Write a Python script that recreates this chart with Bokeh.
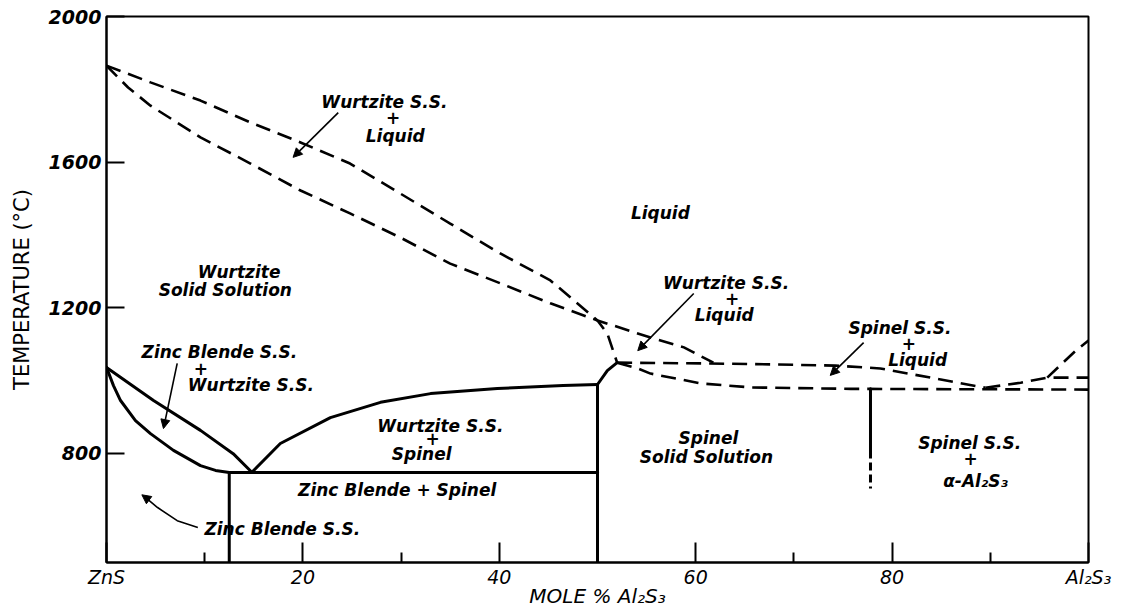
from bokeh.plotting import figure
from bokeh.models import Range1d, FixedTicker, Arrow, NormalHead
from bokeh.core.properties import value
from bokeh.embed import file_html
from bokeh.resources import INLINE

# ---------------- data (mole % Al2S3, temperature degC) ----------------
# Liquidus from ZnS (dashed, upper)
liq_zns_x = [0, 4.48, 9.57, 14.66, 19.76, 24.8, 29.9, 35.0, 40.1, 45.2, 50.0, 51.0, 52.0]
liq_zns_t = [1865, 1819, 1769, 1709, 1654, 1596, 1514, 1431, 1349, 1275, 1165, 1129, 1049]
# Wurtzite solidus (dashed, lower)
wz_sol_x = [0, 2.2, 4.48, 9.57, 14.66, 19.76, 24.8, 29.9, 35.0, 40.1, 45.2, 50.0, 55.4, 58.8, 61.8]
wz_sol_t = [1865, 1805, 1755, 1668, 1596, 1522, 1459, 1393, 1321, 1267, 1212, 1165, 1118, 1091, 1049]
# Spinel liquidus (dashed)
sp_liq_x = [52.0, 60.5, 66.0, 74.2, 78.8, 83.9, 89.5]
sp_liq_t = [1049, 1047, 1045, 1041, 1033, 1008, 980]
# Al2S3-side liquidus (dashed)
al_liq_x = [89.5, 93.1, 95.8, 100]
al_liq_t = [980, 994, 1008, 1008]
al_up_x = [95.8, 97.1, 98.7, 100]
al_up_t = [1008, 1041, 1082, 1110]
# Spinel solidus (dashed)
sp_sol_x = [52.0, 54.1, 55.4, 60.5, 65.6, 75.8, 100]
sp_sol_t = [1049, 1033, 1019, 992, 981, 977, 975]
# Solid boundaries
zb_solvus_x = [0, 0.71, 1.43, 2.95, 4.48, 6.82, 9.57, 11.1, 12.5]
zb_solvus_t = [1036, 986, 945, 890, 854, 808, 766, 753, 747]
zb_wz_x = [0, 4.79, 9.57, 12.9, 14.8]
zb_wz_t = [1036, 945, 863, 799, 748]
wz_solvus_x = [14.8, 17.7, 22.8, 27.9, 33.0, 39.8, 46.5, 50.0]
wz_solvus_t = [748, 827, 898, 940, 964, 978, 986, 989]
perit_x = [50.0, 51.0, 52.0]
perit_t = [989, 1027, 1049]
eutectoid_x = [12.5, 50.0]
eutectoid_t = [747, 747]
vert1_x = [12.5, 12.5]
vert1_t = [747, 500]
vert2_x = [50.0, 50.0]
vert2_t = [989, 500]
vert3_x = [77.8, 77.8]
vert3_t = [977, 808]
vert3d_x = [77.8, 77.8]
vert3d_t = [808, 703]

# Tick labels
x_ticks = [0, 20, 40, 60, 80, 100]
x_tick_labels = ["ZnS", "20", "40", "60", "80", "Al\u2082S\u2083"]
x_minor = [10, 30, 50, 70, 90]
y_ticks = [800, 1200, 1600, 2000]

# Region labels
lab_x = [28.3, 29.2, 29.4, 56.4, 13.5, 12.4, 11.5, 9.6, 14.7, 34.0, 33.2, 32.1, 29.6, 18.2,
         63.1, 63.7, 62.9, 80.8, 81.7, 82.6, 61.3, 61.4, 88.2, 88.0, 88.5]
lab_t = [1766, 1722, 1673, 1459, 1299, 1250, 1077, 1033, 989, 876, 841, 797, 698, 593,
         1267, 1225, 1181, 1143, 1102, 1055, 843, 791, 827, 786, 725]
lab_text = ["Wurtzite S.S.", "+", "Liquid", "Liquid", "Wurtzite", "Solid  Solution",
            "Zinc Blende S.S.", "+", "Wurtzite S.S.", "Wurtzite S.S.", "+", "Spinel",
            "Zinc Blende + Spinel", "Zinc  Blende S.S.",
            "Wurtzite S.S.", "+", "Liquid", "Spinel S.S.", "+", "Liquid",
            "Spinel", "Solid  Solution", "Spinel  S.S.", "+", "\u03b1-Al\u2082S\u2083"]

# Pointer arrows (start x, start t, end x, end t)
arr_x0 = [23.6, 7.2, 59.8, 77.1]
arr_t0 = [1736, 1047, 1239, 1104]
arr_x1 = [19.0, 5.8, 54.1, 73.7]
arr_t1 = [1613, 868, 1082, 1014]
# curved pointer for "Zinc Blende S.S."
zb_ptr_x = [9.3, 7.2, 5.2, 3.9]
zb_ptr_t = [596, 615, 651, 680]

# ---------------- figure ----------------
p = figure(width=1121, height=610, output_backend="svg", toolbar_location=None,
           x_range=Range1d(0, 100), y_range=Range1d(500, 2000),
           min_border_left=106, min_border_right=33, min_border_top=16, min_border_bottom=48)
p.background_fill_color = "white"
p.border_fill_color = "white"
p.outline_line_color = "black"
p.outline_line_width = 2
p.xgrid.visible = False
p.ygrid.visible = False

font = value("DejaVu Sans")

xa = p.xaxis[0]
xa.ticker = FixedTicker(ticks=x_ticks, minor_ticks=x_minor)
xa.major_label_overrides = {t: l for t, l in zip(x_ticks, x_tick_labels)}
xa.major_tick_in = 20
xa.major_tick_out = 0
xa.minor_tick_in = 10
xa.minor_tick_out = 0
xa.major_tick_line_width = 2
xa.minor_tick_line_width = 2
xa.axis_line_width = 2
xa.major_label_text_font = "DejaVu Sans"
xa.major_label_text_font_style = "italic"
xa.major_label_text_font_size = "19px"
xa.major_label_text_color = "black"
xa.major_label_standoff = 3
xa.axis_label = "MOLE % Al\u2082S\u2083"
xa.axis_label_text_font = "DejaVu Sans"
xa.axis_label_text_font_style = "italic"
xa.axis_label_text_font_size = "20px"
xa.axis_label_text_color = "black"
xa.axis_label_standoff = -7

ya = p.yaxis[0]
ya.ticker = FixedTicker(ticks=y_ticks, minor_ticks=[])
ya.major_tick_in = 18
ya.major_tick_out = 0
ya.major_tick_line_width = 2
ya.axis_line_width = 2
ya.major_label_text_font = "DejaVu Sans"
ya.major_label_text_font_style = "bold italic"
ya.major_label_text_font_size = "19px"
ya.major_label_text_color = "black"
ya.major_label_standoff = 5
ya.axis_label = "TEMPERATURE (\u00b0C)"
ya.axis_label_text_font = "DejaVu Sans"
ya.axis_label_text_font_style = "normal"
ya.axis_label_text_font_size = "21px"
ya.axis_label_text_color = "black"
ya.axis_label_standoff = 12

dash = "15 8"
lw_d = 2.6
for xs, ts in [(liq_zns_x, liq_zns_t), (wz_sol_x, wz_sol_t), (sp_liq_x, sp_liq_t),
               (al_liq_x, al_liq_t), (al_up_x, al_up_t), (sp_sol_x, sp_sol_t)]:
    p.line(xs, ts, line_color="black", line_width=lw_d, line_dash=dash)

for xs, ts in [(zb_solvus_x, zb_solvus_t), (zb_wz_x, zb_wz_t), (wz_solvus_x, wz_solvus_t),
               (perit_x, perit_t), (eutectoid_x, eutectoid_t), (vert1_x, vert1_t),
               (vert2_x, vert2_t), (vert3_x, vert3_t)]:
    p.line(xs, ts, line_color="black", line_width=3, line_cap="round", line_join="round")
p.line(vert3d_x, vert3d_t, line_color="black", line_width=3, line_dash="8 4")

p.text(x=lab_x, y=lab_t, text=lab_text, text_font=font, text_font_style="bold italic",
       text_font_size="17px", text_align="center", text_baseline="middle", text_color="black")

for x0, t0, x1, t1 in zip(arr_x0, arr_t0, arr_x1, arr_t1):
    p.add_layout(Arrow(end=NormalHead(size=9, fill_color="black", line_color="black"),
                       x_start=x0, y_start=t0, x_end=x1, y_end=t1,
                       line_color="black", line_width=1.6))

p.line(zb_ptr_x, zb_ptr_t, line_color="black", line_width=1.6)
p.add_layout(Arrow(end=NormalHead(size=9, fill_color="black", line_color="black"),
                   x_start=zb_ptr_x[-1], y_start=zb_ptr_t[-1], x_end=3.6, y_end=686,
                   line_color="black", line_width=1.6))

open("out.html", "w").write(file_html(p, INLINE))
